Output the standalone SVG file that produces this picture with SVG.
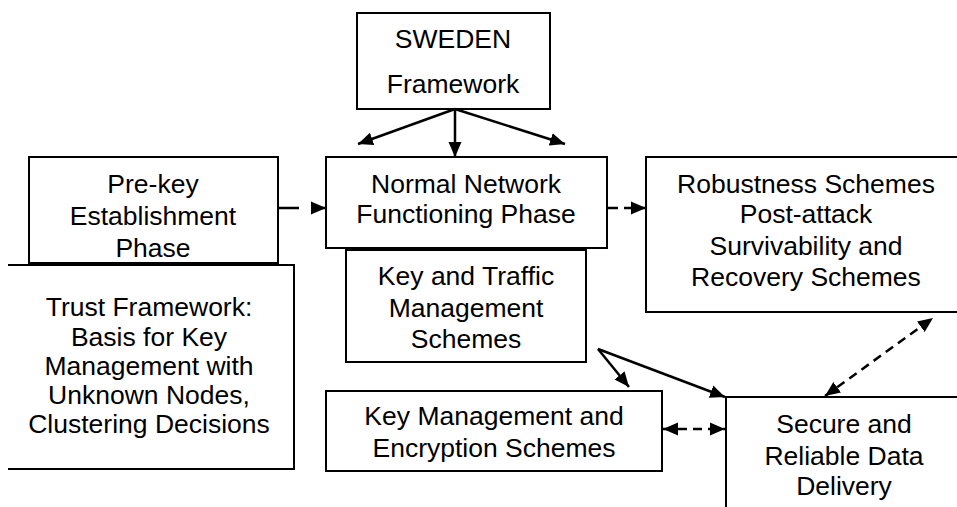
<svg xmlns="http://www.w3.org/2000/svg" width="957" height="507" viewBox="0 0 957 507">
<style>
.box{fill:#fff;stroke:#000;stroke-width:2}
.open{fill:#fff;stroke:#000;stroke-width:2}
text{font-family:"Liberation Sans",Arial,sans-serif;font-size:26.5px;fill:#000;text-anchor:middle}
.c{fill:none;stroke:#000;stroke-width:2.5}
.d{stroke-dasharray:9,6}
</style>
<defs>
<marker id="ah" markerUnits="userSpaceOnUse" markerWidth="16" markerHeight="14" refX="15" refY="7" orient="auto-start-reverse" viewBox="0 0 16 14">
<path d="M0,0.5 L15,7 L0,13.5 z" fill="#000"/>
</marker>
</defs>
<rect width="957" height="507" fill="#fff"/>
<g id="sweden">
<rect class="box" x="357" y="13" width="193" height="96"/>
<text x="453" y="48">SWEDEN</text>
<text x="453" y="93">Framework</text>
</g>
<g id="prekey">
<rect class="box" x="29" y="157" width="249" height="106"/>
<text x="153" y="193">Pre-key</text>
<text x="153" y="225">Establishment</text>
<text x="153" y="257">Phase</text>
</g>
<g id="trust">
<path class="open" d="M8,265 H294 V469 H8"/>
<text x="149" y="316">Trust Framework:</text>
<text x="149" y="346">Basis for Key</text>
<text x="149" y="375">Management with</text>
<text x="149" y="404">Unknown Nodes,</text>
<text x="149" y="433">Clustering Decisions</text>
</g>
<g id="normal">
<rect class="box" x="326" y="157" width="281" height="91"/>
<text x="466" y="193">Normal Network</text>
<text x="466" y="223">Functioning Phase</text>
</g>
<g id="keytraffic">
<rect class="box" x="346" y="250" width="240" height="112"/>
<text x="466" y="285">Key and Traffic</text>
<text x="466" y="317">Management</text>
<text x="466" y="348">Schemes</text>
</g>
<g id="robust">
<rect class="box" x="646" y="157" width="320" height="155"/>
<text x="806" y="193">Robustness Schemes</text>
<text x="806" y="223">Post-attack</text>
<text x="806" y="255">Survivability and</text>
<text x="806" y="286">Recovery Schemes</text>
</g>
<g id="keymgmt">
<rect class="box" x="326" y="391" width="336" height="80"/>
<text x="494" y="425">Key Management and</text>
<text x="494" y="457">Encryption Schemes</text>
</g>
<g id="secure">
<rect class="box" x="726" y="397" width="240" height="130"/>
<text x="844" y="433">Secure and</text>
<text x="844" y="465">Reliable Data</text>
<text x="844" y="495">Delivery</text>
</g>
<g id="connectors">
<line class="c" x1="455" y1="109" x2="358" y2="144" marker-end="url(#ah)"/>
<line class="c" x1="455" y1="109" x2="455" y2="157" marker-end="url(#ah)"/>
<line class="c" x1="455" y1="109" x2="565" y2="144" marker-end="url(#ah)"/>
<line class="c" x1="279" y1="208" x2="326" y2="208" stroke-dasharray="20,12" marker-end="url(#ah)"/>
<line class="c" x1="608" y1="208" x2="646" y2="208" stroke-dasharray="10,6" marker-end="url(#ah)"/>
<line class="c" x1="598" y1="349" x2="629" y2="387" marker-end="url(#ah)"/>
<line class="c" x1="598" y1="349" x2="725" y2="397" marker-end="url(#ah)"/>
<line class="c d" x1="663" y1="429" x2="725" y2="429" marker-start="url(#ah)" marker-end="url(#ah)"/>
<line class="c d" x1="825" y1="396" x2="933" y2="318" marker-start="url(#ah)" marker-end="url(#ah)"/>
</g>
</svg>
